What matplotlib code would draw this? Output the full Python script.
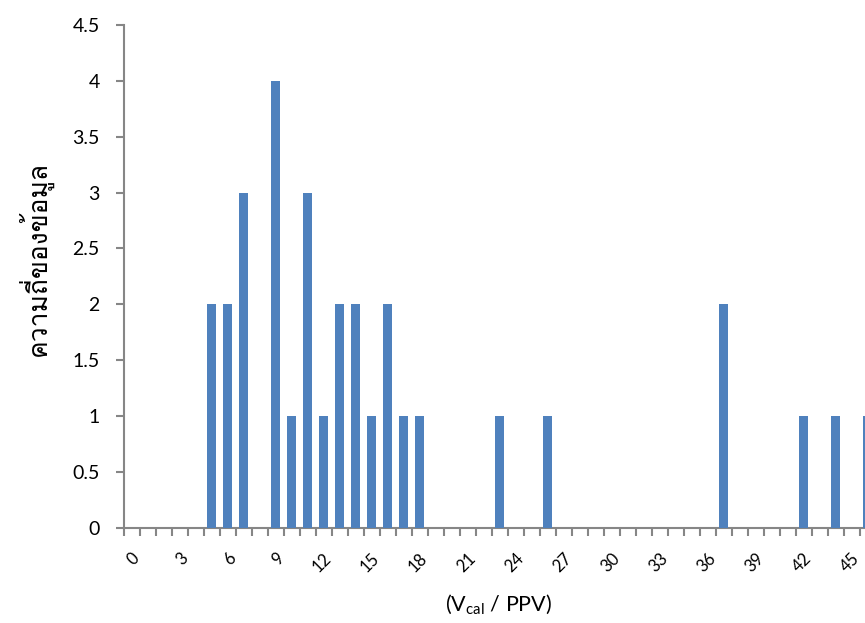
import numpy as np
import matplotlib
matplotlib.use('Agg')
import matplotlib.pyplot as plt
from matplotlib import font_manager
from matplotlib.ft2font import FT2Font

# frequency of each (V_cal / PPV) class, categories 0..46
categories = list(range(0, 47))
bar_cats = [5, 6, 7, 9, 10, 11, 12, 13, 14, 15, 16, 17, 18, 23, 26, 37, 42, 44, 46]
bar_vals = [2, 2, 3, 4, 1, 3, 1, 2, 2, 1, 2, 1, 1, 1, 1, 2, 1, 1, 1]
counts = [0] * len(categories)
for c, v in zip(bar_cats, bar_vals):
    counts[c] = v

tick_labels = [str(c) for c in categories[::3]]
y_label = 'ความถี่ของข้อมูล'

# find an installed regular-weight font that has Thai glyphs
thai_fonts = []
for f in font_manager.fontManager.ttflist:
    try:
        if 0x0E04 in FT2Font(f.fname).get_charmap():
            thai_fonts.append(f)
    except Exception:
        pass
preferred = ['Loma', 'Garuda', 'Waree', 'Tlwg Typo', 'Norasi', 'Noto Sans Thai', 'Kinnari']
thai_font = None
regular = [f for f in thai_fonts if f.weight in (400, 'normal', 'regular') and f.style == 'normal']
for name in preferred:
    if any(f.name == name for f in regular):
        thai_font = name
        break
if thai_font is None and regular:
    thai_font = regular[0].name
if thai_font is None and thai_fonts:
    thai_font = thai_fonts[0].name

base = 'Lato'
plt.rcParams['font.family'] = [base, 'DejaVu Sans']
plt.rcParams['mathtext.fontset'] = 'custom'
plt.rcParams['mathtext.rm'] = base

fig = plt.figure(figsize=(8.65, 6.23), dpi=100)
ax = fig.add_axes([123.5 / 865, 95.3 / 623, 1 - 123.5 / 865, (598 - 95.3) / 623])

ax.bar(categories, counts, width=0.57, color='#4F81BD', zorder=3)

ax.set_yticks(np.arange(0, 4.51, 0.5))
ax.set_yticklabels(['0', '0.5', '1', '1.5', '2', '2.5', '3', '3.5', '4', '4.5'])

ax.set_xticks(np.arange(-0.5, 47, 1), minor=True)
ax.set_xticks(categories[::3])
ax.set_xticklabels(tick_labels, rotation=45, ha='right', rotation_mode='anchor')
# limits after the ticks, so the tick call does not widen them
ax.set_xlim(-0.5, -0.5 + (865 - 123.5) / 16)
ax.set_ylim(0, 4.5)

ax.tick_params(axis='x', which='major', length=0, pad=16, labelsize=12)
ax.tick_params(axis='x', which='minor', length=6, width=1.5, color='#868686', direction='out')
ax.tick_params(axis='y', length=6, width=1.5, color='#868686', labelsize=14, pad=11)

for s in ['top', 'right']:
    ax.spines[s].set_visible(False)
for s in ['left', 'bottom']:
    ax.spines[s].set_color('#868686')
    ax.spines[s].set_linewidth(1.5)

fam = [thai_font, 'DejaVu Sans'] if thai_font else ['DejaVu Sans']
fig.text(35 / 865, 1 - 258 / 623, y_label, rotation=90, ha='center', va='center',
         fontsize=19, family=fam, fontweight='normal')
fig.text(499 / 865, 1 - 605 / 623, '(V$_{\\mathrm{cal}}$ / PPV)', ha='center', va='center',
         fontsize=15.5)

fig.savefig('out.png', dpi=100)
